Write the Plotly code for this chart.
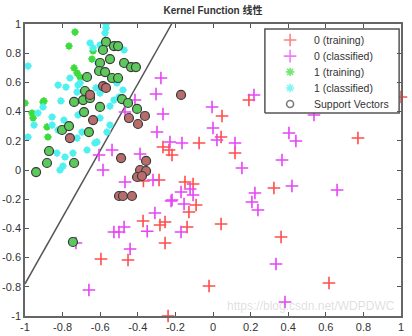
import plotly.graph_objects as go

# ---- data ----
red_train_x = [1.0, 0.191, 0.048, 0.043, -0.074, 0.117, 0.771, -0.266, -0.234, -0.218,
               -0.287, -0.149, -0.106, -0.090, -0.128, -0.372, -0.282, -0.255, -0.138, -0.255,
               -0.452, -0.596, -0.239, -0.021, 0.324, 0.043, 0.362, 0.617, -0.37]
red_train_y = [0.5, 0.479, 0.370, 0.226, 0.185, 0.116, 0.219, 0.158, 0.137, 0.103,
               -0.068, -0.082, -0.096, -0.240, -0.288, -0.349, -0.377, -0.356, -0.390, -0.5,
               -0.616, -0.610, -1.0, -0.795, -0.123, -0.370, -0.459, -0.774, -0.075]

mag_x = [-0.277, -0.303, -0.266, -0.298, -0.415, -0.468, -0.165, -0.229, -0.606, -0.537,
         -0.388, -0.005, 0.0, 0.021, 0.117, 0.154, 0.218, 0.404, 0.441, 0.367,
         0.537, 0.420, 0.223, 0.207, 0.239, 0.660, 0.335, 0.383, -0.170, -0.122,
         -0.106, -0.223, -0.154, -0.309, -0.170, -0.319, -0.350, -0.468, -0.218, -0.473,
         -0.527, -0.5, -0.441, -0.660, -0.729, -0.585]
mag_y = [0.630, 0.521, 0.384, 0.260, 0.479, 0.397, 0.185, 0.192, 0.103, 0.137,
         0.110, 0.432, 0.288, 0.205, 0.185, 0.014, 0.514, 0.253, 0.199, 0.068,
         0.377, -0.110, -0.158, -0.219, -0.274, -0.137, -0.644, -0.904, -0.151, -0.130,
         -0.171, -0.212, -0.233, -0.295, -0.425, -0.068, -0.420, -0.082, -0.205, -0.390,
         -0.425, -0.425, -0.541, -0.822, -0.5, 0.0]

green_train_x = [-0.734, -0.766, -0.638, -0.644, -0.739, -0.723, -0.707, -0.899, -0.963, -1.0,
                 -1.011, -0.883, -0.878, -0.957, -0.904]
green_train_y = [0.945, 0.849, 0.815, 0.760, 0.699, 0.664, 0.637, 0.473, 0.390, 0.459,
                 0.356, 0.295, 0.226, 0.356, 0.466]

cyan_x = [-0.569, -0.574, -0.569, -0.654, -0.548, -0.473, -0.984, -0.761, -0.824, -0.782,
          -0.718, -0.723, -0.809, -0.856, -0.904, -0.931, -0.952, -0.856, -0.984, -0.793,
          -0.718, -0.697, -0.723, -0.628, -0.601, -0.548, -0.527, -0.5, -0.479, -0.622,
          -0.601, -0.574, -0.511, -0.830, -0.787, -0.745, -0.798, -0.638, -0.601, -0.612,
          -0.707, -0.824, -0.564, -0.548, -0.814, -0.617, -0.670]
cyan_y = [1.0, 0.938, 0.973, 0.870, 0.767, 0.822, 0.712, 0.630, 0.582, 0.568,
          0.582, 0.534, 0.473, 0.363, 0.432, 0.390, 0.308, 0.308, 0.226, 0.342,
          0.377, 0.260, 0.219, 0.185, 0.356, 0.438, 0.479, 0.5, 0.548, 0.562,
          0.527, 0.664, 0.596, 0.116, 0.089, 0.116, 0.027, 0.836, 0.856, 0.733,
          0.596, 0.274, 0.260, 0.308, 0.0, 0.192, 0.137]

sv_red_x = [-0.585, -0.569, -0.654, -0.761, -0.638, -0.447, -0.399, -0.362, -0.170, -0.489,
            -0.356, -0.388, -0.356, -0.404, -0.378, -0.5, -0.479, -0.431]
sv_red_y = [0.575, 0.562, 0.514, 0.219, 0.342, 0.356, 0.315, 0.370, 0.514, 0.082,
            0.062, 0.0, -0.007, -0.048, -0.041, -0.178, -0.178, -0.178]

sv_green_x = [-0.569, -0.585, -0.527, -0.505, -0.601, -0.606, -0.574, -0.548, -0.670, -0.537,
              -0.505, -0.473, -0.436, -0.410, -0.681, -0.691, -0.654, -0.739, -0.686, -0.601,
              -0.484, -0.452, -0.404, -0.803, -0.766, -0.660, -0.872, -0.883, -0.739, -0.941,
              -0.745]
sv_green_y = [0.877, 0.822, 0.849, 0.849, 0.733, 0.678, 0.671, 0.760, 0.637, 0.630,
              0.630, 0.733, 0.705, 0.705, 0.541, 0.479, 0.493, 0.466, 0.397, 0.432,
              0.486, 0.459, 0.418, 0.274, 0.301, 0.260, 0.130, 0.048, 0.048, -0.014,
              -0.493]

boundary_x = [-1.0, -0.22]
boundary_y = [-0.78, 1.0]

ticks = [-1, -0.8, -0.6, -0.4, -0.2, 0, 0.2, 0.4, 0.6, 0.8, 1]
tick_labels = ["-1", "-0.8", "-0.6", "-0.4", "-0.2", "0", "0.2", "0.4", "0.6", "0.8", "1"]

legend_labels = ["0 (training)", "0 (classified)", "1 (training)", "1 (classified)", "Support Vectors"]

RED = "#ff4d4d"
MAG = "#e645f5"
GRN = "#3ddc3d"
CYN = "#4ff0f0"
legend_colors = [RED, MAG, GRN, CYN, "#444444"]
legend_symbols = ["cross-thin", "cross-thin", "asterisk", "asterisk", "circle-open"]
legend_sizes = [9, 9, 7, 7, 7]

fig = go.Figure()

fig.add_trace(go.Scatter(x=boundary_x, y=boundary_y, mode="lines",
                         line=dict(color="#555555", width=1.5), showlegend=False,
                         hoverinfo="skip"))
fig.add_trace(go.Scatter(x=red_train_x, y=red_train_y, mode="markers", name=legend_labels[0],
                         marker=dict(symbol="cross-thin", size=9, color=RED,
                                     line=dict(color=RED, width=1.6)), cliponaxis=False))
fig.add_trace(go.Scatter(x=mag_x, y=mag_y, mode="markers", name=legend_labels[1],
                         marker=dict(symbol="cross-thin", size=9, color=MAG,
                                     line=dict(color=MAG, width=1.6))))
fig.add_trace(go.Scatter(x=green_train_x, y=green_train_y, mode="markers", name=legend_labels[2],
                         marker=dict(symbol="asterisk", size=6, color=GRN,
                                     line=dict(color=GRN, width=2.0))))
fig.add_trace(go.Scatter(x=cyan_x, y=cyan_y, mode="markers", name=legend_labels[3],
                         marker=dict(symbol="asterisk", size=6, color=CYN,
                                     line=dict(color=CYN, width=2.0))))
fig.add_trace(go.Scatter(x=sv_green_x, y=sv_green_y, mode="markers", name=legend_labels[4],
                         marker=dict(symbol="circle", size=9, color="#5cc95c",
                                     line=dict(color="#3a3a3a", width=1.2))))
fig.add_trace(go.Scatter(x=sv_red_x, y=sv_red_y, mode="markers", name=legend_labels[4],
                         marker=dict(symbol="circle", size=9, color="#b86c6c",
                                     line=dict(color="#3a3a3a", width=1.2))))

# ---- compact legend drawn on an overlay axis (paper-like 0..1 coordinates) ----
box_x0, box_x1, box_y0, box_y1 = 0.638, 0.995, 0.695, 0.983
row_y = [0.945, 0.890, 0.836, 0.781, 0.726]
fig.add_trace(go.Scatter(x=[box_x0, box_x1, box_x1, box_x0, box_x0],
                         y=[box_y0, box_y0, box_y1, box_y1, box_y0],
                         xaxis="x2", yaxis="y2", mode="lines", fill="toself",
                         fillcolor="white", line=dict(color="#555555", width=1.5),
                         hoverinfo="skip"))
fig.add_trace(go.Scatter(x=[0.705] * len(legend_labels), y=row_y,
                         xaxis="x2", yaxis="y2", mode="markers", hoverinfo="skip",
                         marker=dict(symbol=legend_symbols, size=legend_sizes,
                                     color=legend_colors,
                                     line=dict(color=legend_colors, width=1.6))))
annotations = []
for lab, yy in zip(legend_labels, row_y):
    annotations.append(dict(text=lab, x=0.762, y=yy, xref="x2", yref="y2",
                            xanchor="left", yanchor="middle", showarrow=False,
                            font=dict(family="Liberation Sans", size=10.5, color="#333333")))
annotations.append(dict(text="https://blog.csdn.net/WDPDWC", x=0.99, y=0.004,
                        xref="paper", yref="paper", xanchor="right", yanchor="bottom",
                        showarrow=False,
                        font=dict(family="Liberation Sans", size=12, color="rgba(160,160,160,0.35)")))

axis_common = dict(range=[-1, 1], tickvals=ticks, ticktext=tick_labels,
                   ticks="inside", ticklen=4, tickcolor="#555555",
                   showline=True, linecolor="#666666", linewidth=1.5, mirror="ticks",
                   showgrid=False, zeroline=False, automargin=False,
                   tickfont=dict(family="Liberation Sans", size=11, color="#333333"))

fig.update_xaxes(**axis_common)
fig.update_yaxes(**axis_common)

fig.update_layout(
    width=412, height=336,
    margin=dict(l=25, r=11, t=24, b=20),
    showlegend=False,
    paper_bgcolor="white", plot_bgcolor="white",
    xaxis2=dict(overlaying="x", range=[0, 1], visible=False, automargin=False),
    yaxis2=dict(overlaying="y", range=[0, 1], visible=False, automargin=False),
    title=dict(text="<b>Kernel Function 线性</b>", x=0.517, xanchor="center",
               y=0.968, yanchor="middle", yref="container",
               font=dict(family="Liberation Sans, Noto Sans CJK SC", size=10, color="#333333")),
    annotations=annotations,
)

fig.write_html("out.html")
